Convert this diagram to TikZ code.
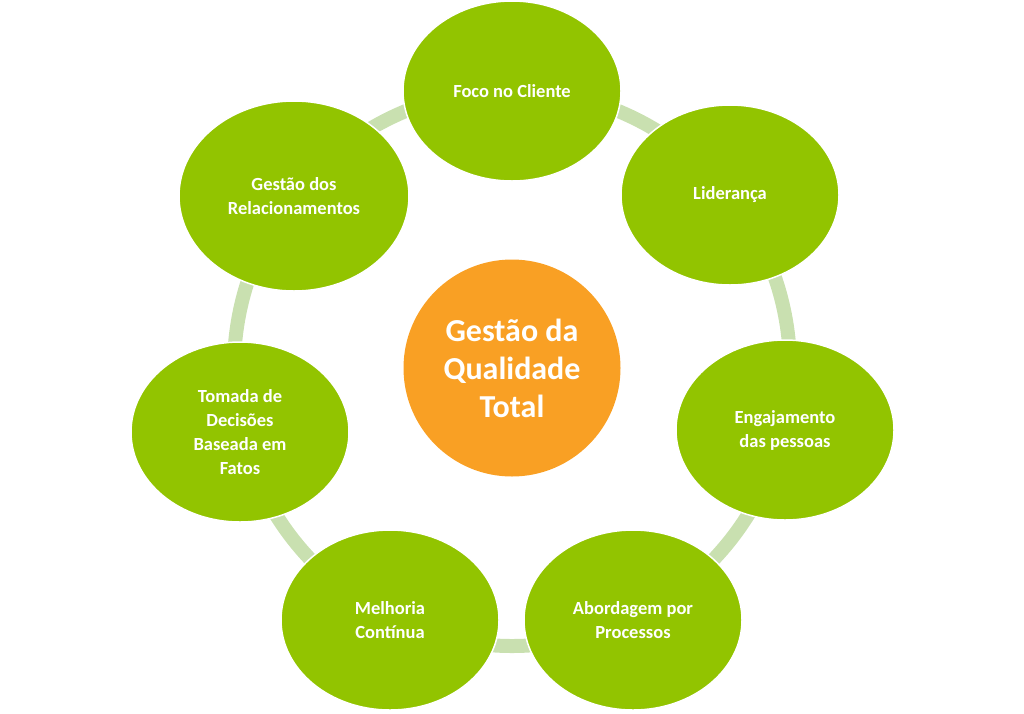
\documentclass[tikz,border=0pt]{standalone}
\usepackage{fontspec}
\setmainfont{Carlito}
\usetikzlibrary{shapes.geometric}
\definecolor{leaf}{HTML}{92C400}
\definecolor{ringc}{HTML}{C9E0B0}
\definecolor{sun}{HTML}{F9A024}
\begin{document}
\begin{tikzpicture}[x=1pt,y=-1pt,
  petal/.style={ellipse,fill=leaf,draw=white,line width=1.5pt,minimum width=218pt,minimum height=180pt,inner sep=0pt,
    text=white,font=\fontsize{18.5}{24}\selectfont\bfseries,align=center},
  hub/.style={circle,fill=sun,minimum size=217pt,inner sep=0pt,text=white,font=\fontsize{32}{38}\selectfont\bfseries,align=center}]
\useasboundingbox (0,0) rectangle (1024,713);
\coordinate (c) at (512,368);
\draw[ringc,line width=14pt] (c) circle[radius=278];
\node[hub] (h) at (c) {Gestão da\\Qualidade\\Total};
\node[petal] (p1) at (512,91) {Foco no Cliente};
\node[petal] (p2) at (730,195) {Liderança};
\node[petal] (p3) at (785,430) {Engajamento\\das pessoas};
\node[petal] (p4) at (633,620) {Abordagem por\\Processos};
\node[petal] (p5) at (390,620) {Melhoria\\Contínua};
\node[petal] (p6) at (240,432) {Tomada de\\Decisões\\Baseada em\\Fatos};
\node[petal,minimum width=230pt,minimum height=190pt] (p7) at (294,196) {Gestão dos\\Relacionamentos};
\end{tikzpicture}
\end{document}
